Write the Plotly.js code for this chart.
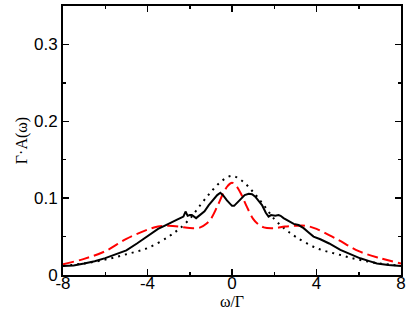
<!DOCTYPE html>
<html><head><meta charset="utf-8">
<script src="https://cdn.plot.ly/plotly-3.0.1.min.js"></script>
<style>html,body{margin:0;padding:0;background:#fff}#chart{width:407px;height:315px}</style>
</head><body><div id="chart"></div>
<script>
const solidW = [-8,-7.5,-7,-6.5,-6,-5.5,-5,-4.5,-4,-3.5,-3.2,-3,-2.8,-2.6,-2.45,-2.3,-2.2,-2.1,-2.0,-1.9,-1.7,-1.5,-1.3,-1.1,-0.87,-0.7,-0.55,-0.4,-0.24,-0.1,0,0.1,0.25,0.4,0.6,0.79,0.95,1.1,1.25,1.42,1.6,1.73,1.85,1.95,2.05,2.2,2.3,2.44,2.7,2.92,3.15,3.39,3.6,3.86,4.18,4.6,5.13,5.6,6.07,6.5,6.86,7.4,8];
const solidA = [0.0117,0.0125,0.015,0.018,0.022,0.027,0.032,0.041,0.050,0.060,0.064,0.067,0.070,0.072,0.074,0.076,0.0826,0.077,0.078,0.078,0.074,0.078,0.083,0.091,0.098,0.104,0.107,0.103,0.097,0.092,0.090,0.090,0.094,0.098,0.104,0.1056,0.105,0.102,0.097,0.091,0.081,0.076,0.078,0.077,0.077,0.078,0.077,0.074,0.070,0.0665,0.065,0.061,0.056,0.050,0.0465,0.041,0.0326,0.027,0.0217,0.018,0.015,0.013,0.0117];

const dashW = [-8,-7,-6,-5,-4,-3.5,-3,-2.5,-2,-1.5,-1.2,-1,-0.7,-0.4,-0.2,0,0.2,0.4,0.7,1,1.2,1.5,2,2.5,3,3.5,4,5,6,7,8];
const dashA = [0.014,0.021,0.031,0.047,0.059,0.063,0.064,0.063,0.061,0.062,0.067,0.073,0.089,0.107,0.116,0.120,0.116,0.107,0.089,0.073,0.067,0.062,0.061,0.063,0.064,0.064,0.060,0.046,0.031,0.022,0.015];

const dotW = [-8,-7,-6,-5,-4,-3,-2.5,-2,-1.5,-1,-0.5,0,0.5,1,1.5,2,2.5,3,4,5,6,7,8];
const dotA = [0.012,0.015,0.020,0.027,0.035,0.050,0.060,0.073,0.091,0.108,0.122,0.129,0.122,0.108,0.091,0.073,0.060,0.050,0.035,0.027,0.020,0.015,0.012];

const xTickVals = [-8,-4,0,4,8];
const xTickText = ["-8","-4","0","4","8"];
const yTickVals = [0,0.1,0.2,0.3];
const yTickText = ["0","0.1","0.2","0.3"];

const traces = [
  {x: dotW, y: dotA, mode:'lines', line:{color:'#000', width:2, dash:'2px,5px', shape:'spline'}, hoverinfo:'skip'},
  {x: dashW, y: dashA, mode:'lines', line:{color:'#ff0000', width:2, dash:'11px,5px', shape:'spline'}, hoverinfo:'skip'},
  {x: solidW, y: solidA, mode:'lines', line:{color:'#000', width:2}, hoverinfo:'skip'}
];
const axisCommon = {
  showgrid:false, zeroline:false, showline:true, linecolor:'#000', linewidth:2, mirror:'ticks',
  ticks:'inside', ticklen:6, tickwidth:1.5, tickcolor:'#000',
  tickfont:{family:'Liberation Sans, Arial, sans-serif', size:17, color:'#000'}
};
const layout = {
  width:407, height:315, margin:{l:63, r:6, t:6, b:40},
  paper_bgcolor:'#fff', plot_bgcolor:'#fff', showlegend:false,
  xaxis: Object.assign({}, axisCommon, {range:[-8,8], tickmode:'array', tickvals:xTickVals, ticktext:xTickText,
    ticklabelstandoff:-8,
    minor:{tickmode:'linear', tick0:-8, dtick:2, ticks:'inside', ticklen:3, tickwidth:1.5, tickcolor:'#000'},
    title:{text:'ω/Γ', standoff:0, font:{family:'Liberation Serif, Times New Roman, serif', size:16, color:'#000'}}}),
  yaxis: Object.assign({}, axisCommon, {range:[0,0.35], tickmode:'array', tickvals:yTickVals, ticktext:yTickText,
    minor:{tickmode:'linear', tick0:0, dtick:0.05, ticks:'inside', ticklen:3, tickwidth:1.5, tickcolor:'#000'},
    title:{text:'Γ·A(ω)', standoff:2, font:{family:'Liberation Serif, Times New Roman, serif', size:16, color:'#000'}}})
};
Plotly.newPlot('chart', traces, layout, {staticPlot:true, displayModeBar:false});
</script></body></html>
